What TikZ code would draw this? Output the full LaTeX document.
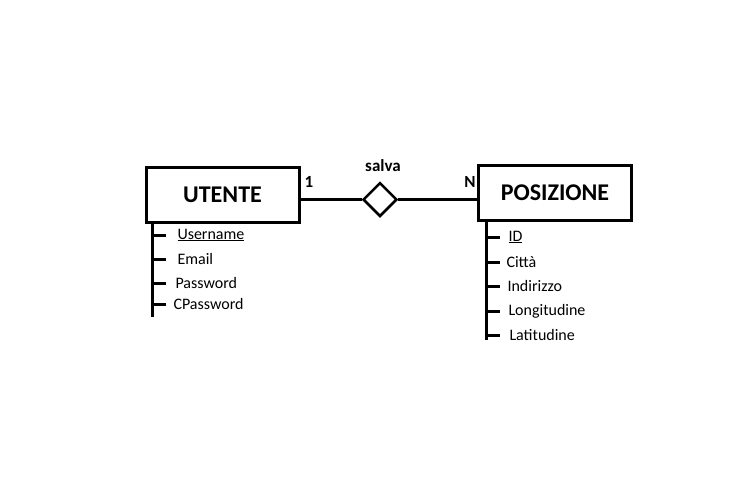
\documentclass[tikz,border=0pt]{standalone}
\usepackage{fontspec}
\setmainfont{Carlito}
\usetikzlibrary{shapes.geometric}

\begin{document}
\begin{tikzpicture}[x=1pt,y=-1pt,line width=3pt,
  entity/.style={draw,minimum width=153pt,minimum height=55pt,inner sep=0pt,font=\bfseries\fontsize{24}{24}\selectfont},
  relation/.style={draw,diamond,aspect=1,line width=2.5pt,minimum width=34pt,minimum height=34pt,inner sep=0pt},
  attr/.style={anchor=west,inner sep=0pt,font=\fontsize{16}{16}\selectfont},
  card/.style={inner sep=0pt,font=\bfseries\fontsize{17}{17}\selectfont}]
\useasboundingbox (0,0) rectangle (752,483);

\node[entity] (utente) at (222.5,194.5) {UTENTE};
\node[entity] (posizione) at (555,192.5) {POSIZIONE};
\node[relation] (salva) at (380,199.5) {};
\node[card] at (383,166) {salva};
\node[card] at (309,182) {1};
\node[card] at (470,182) {N};

\draw (utente.east |- salva.west) -- (salva.west);
\draw (salva.east) -- (posizione.west |- salva.east);

\coordinate (ubot) at (152,317);
\coordinate (pbot) at (486,340);
\draw (utente.south -| ubot) -- (ubot);
\draw (posizione.south -| pbot) -- (pbot);

\foreach \txt/\x/\y [count=\i] in {\underline{Username}/176/235, Email/176/259, Password/174/283, CPassword/172/304}{
  \draw (152,\y) -- (166,\y);
  \node[attr] (ua\i) at (\x,\y) {\txt};
}
\foreach \txt/\x/\y [count=\i] in {\underline{ID}/507/237, Città/505/262, Indirizzo/506/286, Longitudine/507/311, Latitudine/508/335}{
  \draw (486,\y) -- (500,\y);
  \node[attr] (pa\i) at (\x,\y) {\txt};
}
\end{tikzpicture}
\end{document}
